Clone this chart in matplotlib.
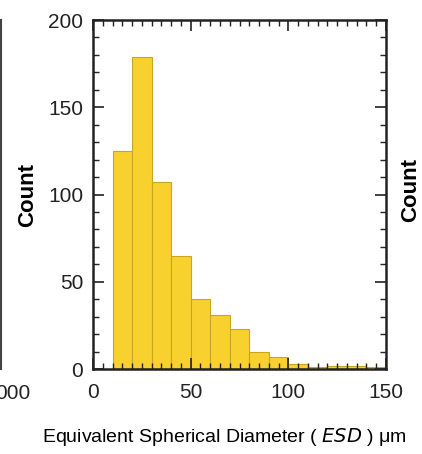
import numpy as np
import matplotlib
matplotlib.use('Agg')
import matplotlib.pyplot as plt
from matplotlib.ticker import MultipleLocator

# histogram bins (ESD, um) and counts
bin_edges = [10, 20, 30, 40, 50, 60, 70, 80, 90, 100, 110, 120, 130, 140, 150]
counts = [125, 179, 107, 65, 40, 31, 23, 10, 7, 3, 1, 2, 1.5, 1]

plt.rcParams['font.family'] = ['Liberation Sans', 'DejaVu Sans']

fig = plt.figure(figsize=(4.22, 4.54), dpi=100)
ax = fig.add_axes([0.2204, 0.1872, 0.6943, 0.7687])

left = np.array(bin_edges[:-1])
widths = np.diff(bin_edges)
ax.bar(left, counts, width=widths, align='edge', color='#F9D12F',
       edgecolor='#C9A526', linewidth=0.8)

ax.set_xlim(0, 150)
ax.set_ylim(0, 200)
ax.xaxis.set_major_locator(MultipleLocator(50))
ax.xaxis.set_minor_locator(MultipleLocator(5))
ax.yaxis.set_major_locator(MultipleLocator(50))
ax.yaxis.set_minor_locator(MultipleLocator(10))
ax.tick_params(which='both', direction='in', top=True, right=True, colors='#222222')
ax.tick_params(which='major', length=8, width=1.2, labelsize=15)
ax.tick_params(axis='x', which='major', pad=10)
ax.tick_params(axis='y', which='major', pad=7)
ax.tick_params(which='minor', length=4, width=1.0)
for s in ax.spines.values():
    s.set_linewidth(1.8)
    s.set_color('#222222')

# x label placed by hand so it stays inside the picture like the original
fig.text(0.533, 0.037, 'Equivalent Spherical Diameter ( $\\it{ESD}$ ) \u03bcm',
         fontsize=14, ha='center', va='center')
ax.text(-0.222, 0.5, 'Count', transform=ax.transAxes, rotation=90,
        fontsize=16, fontweight='bold', ha='center', va='center')

# bits of the neighbouring panels that are cut off at the edges
fig.text(0.972, 0.5815, 'Count', rotation=90, fontsize=16, fontweight='bold',
         ha='center', va='center')
fig.text(-0.012, 0.133, '000', fontsize=15, ha='left', va='center', color='#222222')
fig.add_artist(plt.Line2D([0.002, 0.002], [0.1872, 0.9559], color='#444444', linewidth=1.5))

fig.savefig('out.png', dpi=100)
